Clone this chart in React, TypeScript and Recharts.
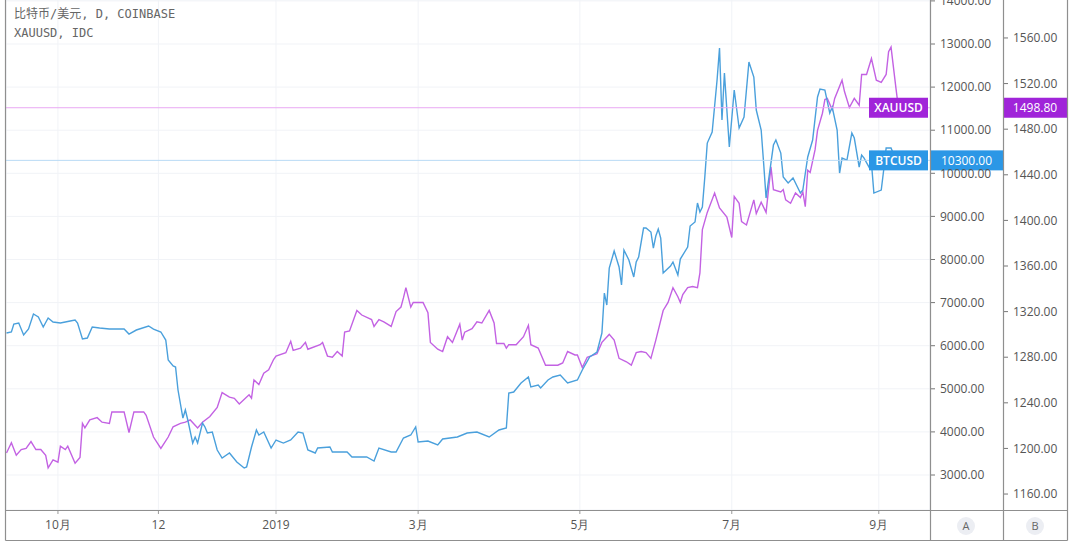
import React from "react";
import { LineChart, Line, XAxis, YAxis, CartesianGrid, ReferenceLine } from "recharts";

// day offsets from 2018-10-01
const btcDay = [
  -21, -19, -18, -16, -14, -12, -10, -8, -6, -4,
  -2, 1, 3, 5, 7, 8, 10, 12, 14, 17,
  21, 27, 29, 32, 37, 39, 42, 44, 45, 47,
  48, 49, 51, 52, 53, 55, 56, 57, 59, 60,
  61, 63, 65, 67, 70, 73, 76, 77, 79, 81,
  82, 84, 87, 89, 92, 95, 98, 100, 102, 105,
  106, 111, 112, 118, 120, 126, 129, 131, 136, 138,
  141, 144, 146, 147, 151, 155, 157, 163, 167, 171,
  176, 180, 183, 184, 186, 189, 192, 193, 196, 197,
  200, 202, 205, 208, 212, 214, 217, 220, 222, 223,
  224, 225, 227, 229, 230, 231, 233, 235, 236, 237,
  239, 240, 242, 243, 244, 245, 246, 247, 250, 251,
  253, 254, 257, 258, 260, 261, 262, 263, 264, 265,
  267, 269, 270, 271, 272, 274, 276, 278, 280, 282,
  284, 285, 287, 288, 289, 292, 293, 295, 296, 298,
  300, 303, 304, 306, 308, 310, 311, 313, 315, 316,
  318, 319, 320, 322, 324, 325, 327, 328, 329, 331,
  332, 333, 336, 337, 338, 340, 342,
];

const btcClose = [
  6294, 6318, 6503, 6526, 6248, 6387, 6735, 6666, 6434, 6642,
  6550, 6526, 6550, 6573, 6596, 6526, 6155, 6178, 6434, 6410,
  6387, 6387, 6271, 6364, 6457, 6387, 6318, 6132, 5668, 5529,
  5506, 4972, 4322, 4508, 4276, 3742, 3882, 3742, 4206, 4114,
  3974, 3998, 3580, 3394, 3510, 3302, 3162, 3186, 3650, 4044,
  3928, 3998, 3626, 3812, 3742, 3812, 3998, 3974, 3580, 3510,
  3626, 3650, 3534, 3534, 3418, 3418, 3325, 3626, 3534, 3534,
  3858, 3928, 4114, 3766, 3789, 3696, 3835, 3882, 3974, 3998,
  3882, 4044, 4090, 4902, 4926, 5134, 5274, 5042, 5088, 5018,
  5204, 5274, 5320, 5134, 5204, 5436, 5738, 5854, 6294, 7222,
  6944, 7802, 8197, 7826, 7408, 8220, 7988, 7594, 7942, 8058,
  8730, 8730, 8638, 8266, 8545, 8707, 8498, 7686, 7849, 7942,
  7640, 8011, 8290, 8777, 8870, 9310, 9102, 9218, 9914, 10702,
  10958, 12164, 12906, 11236, 12326, 10610, 11932, 11050, 11306, 12582,
  12234, 11468, 11004, 10238, 9426, 10656, 10772, 10470, 9914, 9774,
  9890, 9542, 9612, 10378, 10772, 11770, 11955, 11932, 11398, 11538,
  11004, 10006, 10354, 10308, 10934, 10818, 10146, 10424, 10354, 10146,
  10238, 9542, 9612, 10076, 10586, 10586, 10300,
];

const xauDay = [
  -21, -19, -17, -15, -13, -11, -9, -7, -5, -4,
  -2, 0, 1, 3, 4, 7, 9, 10, 11, 13,
  16, 18, 21, 22, 27, 29, 31, 35, 36, 39,
  42, 45, 47, 50, 52, 54, 57, 59, 62, 65,
  67, 70, 72, 74, 78, 79, 80, 82, 84, 86,
  88, 89, 93, 95, 96, 99, 101, 102, 107, 108,
  110, 112, 114, 116, 117, 119, 122, 124, 128, 129,
  131, 133, 136, 138, 140, 141, 142, 144, 145, 149,
  151, 152, 155, 157, 159, 161, 164, 165, 166, 169,
  171, 173, 176, 178, 179, 182, 183, 184, 187, 190,
  192, 193, 196, 199, 204, 206, 208, 211, 212, 214,
  216, 220, 222, 225, 227, 229, 232, 234, 236, 238,
  240, 242, 244, 247, 249, 251, 253, 254, 255, 257,
  259, 261, 262, 263, 265, 268, 270, 273, 275, 276,
  278, 279, 281, 284, 285, 287, 289, 291, 292, 295,
  296, 297, 299, 301, 303, 304, 305, 306, 307, 309,
  310, 312, 313, 314, 316, 317, 320, 321, 323, 325,
  327, 328, 330, 332, 334, 336, 338, 339, 340, 342,
  343,
];

const xauClose = [
  1196, 1205, 1194, 1199, 1200, 1206, 1199, 1199, 1194, 1183,
  1190, 1188, 1202, 1199, 1202, 1187, 1192, 1222, 1218, 1225,
  1227, 1223, 1222, 1232, 1232, 1214, 1232, 1232, 1229, 1210,
  1200, 1210, 1219, 1222, 1223, 1225, 1218, 1223, 1228, 1236,
  1249, 1245, 1244, 1239, 1247, 1244, 1260, 1256, 1266, 1269,
  1278, 1281, 1284, 1294, 1286, 1288, 1293, 1287, 1291, 1293,
  1281, 1280, 1285, 1281, 1302, 1303, 1321, 1317, 1313, 1307,
  1313, 1311, 1307, 1320, 1324, 1332, 1341, 1324, 1328, 1328,
  1319, 1293, 1287, 1285, 1298, 1293, 1309, 1295, 1302, 1305,
  1311, 1310, 1321, 1310, 1292, 1292, 1288, 1291, 1291, 1298,
  1308, 1291, 1288, 1273, 1273, 1275, 1285, 1282, 1282, 1271,
  1280, 1283, 1293, 1300, 1295, 1279, 1276, 1273, 1284, 1285,
  1284, 1279, 1295, 1321, 1328, 1341, 1333, 1328, 1335, 1341,
  1342, 1341, 1354, 1392, 1407, 1424, 1411, 1403, 1385, 1421,
  1415, 1399, 1396, 1418, 1406, 1416, 1407, 1447, 1427, 1425,
  1427, 1418, 1415, 1424, 1420, 1425, 1412, 1444, 1442, 1462,
  1479, 1494, 1506, 1507, 1497, 1507, 1523, 1513, 1499, 1507,
  1501, 1528, 1528, 1542, 1523, 1521, 1528, 1548, 1552, 1516,
  1498.8,
];

const timeTicks = [0, 41, 89, 147, 213, 275, 335];
const timeLabels = ["10月", "12", "2019", "3月", "5月", "7月", "9月"];
const btcTicks = [3000, 4000, 5000, 6000, 7000, 8000, 9000, 10000, 11000, 12000, 13000, 14000];
const xauTicks = [1160, 1200, 1240, 1280, 1320, 1360, 1400, 1440, 1480, 1520, 1560];
const btcLast = 10300;
const xauLast = 1498.8;

const btcData = btcDay.map((d, i) => ({ day: d, btc: btcClose[i] }));
const xauData = xauDay.map((d, i) => ({ day: d, xau: xauClose[i] }));

const BTC_COLOR = "#4aa0dc";
const XAU_COLOR = "#c362e3";
const BTC_TAG = "#2b97e6";
const XAU_TAG = "#a024d9";
const FONT = "'Open Sans', sans-serif";
const FRAME = "#8f8f8f";

function PriceTag(props: any) {
  const { viewBox, name, text, color, axisX, axisW } = props;
  if (!viewBox) return null;
  const { x, y, width } = viewBox;
  const right = x + width;
  return (
    <g>
      <rect x={right - 61} y={y - 10} width={59} height={20} fill={color} />
      <text x={right - 31.5} y={y} dy="0.36em" textAnchor="middle" fill="#fff" fontSize={12} fontFamily={FONT} fontWeight={600}>
        {name}
      </text>
      <rect x={right + axisX} y={y - 10} width={axisW} height={20} fill={color} />
      <text x={right + axisX + axisW / 2} y={y} dy="0.36em" textAnchor="middle" fill="#fff" fontSize={12} fontFamily={FONT}>
        {text}
      </text>
    </g>
  );
}

export default function App() {
  const tick = { fill: "#555", fontSize: 12, fontFamily: FONT };
  return (
    <div style={{ position: "absolute", left: 0, top: 0, width: 1080, height: 544, background: "#fff" }}>
      <LineChart width={1080} height={544} margin={{ top: 0, right: 12, bottom: 0, left: 6 }}>
        <CartesianGrid yAxisId="a" stroke="#f1f3f7" />
        <XAxis
          dataKey="day"
          type="number"
          domain={[-21.2, 355.9]}
          allowDataOverflow
          ticks={timeTicks}
          interval={0}
          tickFormatter={(v: number) => timeLabels[timeTicks.indexOf(v)]}
          height={34}
          axisLine={false}
          tickLine={{ stroke: "#999" }}
          tickSize={4}
          tickMargin={6}
          tick={tick}
        />
        <YAxis
          yAxisId="a"
          orientation="right"
          width={73}
          domain={[2188, 14021]}
          allowDataOverflow
          ticks={btcTicks}
          interval={0}
          tickFormatter={(v: number) => v.toFixed(2)}
          axisLine={false}
          tickLine={{ stroke: "#777" }}
          tickSize={5}
          tickMargin={5}
          tick={tick}
        />
        <YAxis
          yAxisId="b"
          orientation="right"
          width={65}
          domain={[1146, 1593.3]}
          allowDataOverflow
          ticks={xauTicks}
          interval={0}
          tickFormatter={(v: number) => v.toFixed(2)}
          axisLine={false}
          tickLine={{ stroke: "#777" }}
          tickSize={5}
          tickMargin={5}
          tick={tick}
        />
        <Line
          data={xauData}
          dataKey="xau"
          yAxisId="b"
          type="linear"
          stroke={XAU_COLOR}
          strokeWidth={1.4}
          dot={false}
          isAnimationActive={false}
        />
        <Line
          data={btcData}
          dataKey="btc"
          yAxisId="a"
          type="linear"
          stroke={BTC_COLOR}
          strokeWidth={1.4}
          dot={false}
          isAnimationActive={false}
        />
        <ReferenceLine
          yAxisId="b"
          y={xauLast}
          stroke="#e9a8f3"
          label={<PriceTag name="XAUUSD" text={xauLast.toFixed(2)} color={XAU_TAG} axisX={73} axisW={64} />}
        />
        <ReferenceLine
          yAxisId="a"
          y={btcLast}
          stroke="#b9daf5"
          label={<PriceTag name="BTCUSD" text={btcLast.toFixed(2)} color={BTC_TAG} axisX={0} axisW={73} />}
        />
      </LineChart>

      <svg width={1080} height={544} style={{ position: "absolute", left: 0, top: 0, pointerEvents: "none" }}>
        <g stroke={FRAME} strokeWidth={1.2}>
          <line x1={5.5} y1={0} x2={5.5} y2={540.5} />
          <line x1={1067.5} y1={0} x2={1067.5} y2={540.5} />
          <line x1={5.5} y1={540.5} x2={1067.5} y2={540.5} />
          <line x1={5.5} y1={510.5} x2={1067.5} y2={510.5} />
          <line x1={930.5} y1={0} x2={930.5} y2={540.5} />
          <line x1={1003.5} y1={0} x2={1003.5} y2={540.5} />
        </g>
        <circle cx={966} cy={526} r={9} fill="#eceef3" />
        <text x={966} y={526} dy="0.36em" textAnchor="middle" fontSize={11} fill="#666" fontFamily={FONT}>A</text>
        <circle cx={1035} cy={526} r={9} fill="#eceef3" />
        <text x={1035} y={526} dy="0.36em" textAnchor="middle" fontSize={11} fill="#666" fontFamily={FONT}>B</text>
      </svg>

      <div
        style={{
          position: "absolute",
          left: 14,
          top: 5,
          fontFamily: "'DejaVu Sans Mono', 'Noto Sans CJK SC', monospace",
          fontSize: 12,
          lineHeight: "19px",
          color: "#666",
          whiteSpace: "pre",
        }}
      >
        <div>比特币/美元, D, COINBASE</div>
        <div>XAUUSD, IDC</div>
      </div>
    </div>
  );
}
